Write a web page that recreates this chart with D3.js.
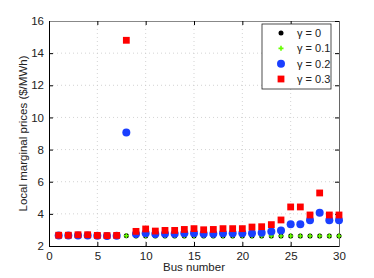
<!DOCTYPE html>
<html>
<head>
<meta charset="utf-8">
<script src="https://cdn.jsdelivr.net/npm/d3@7"></script>
<style>
  body { margin: 0; background: #fff; }
  svg { font-family: "Liberation Sans", Arial, sans-serif; }
</style>
</head>
<body>
<div id="chart"></div>
<script>
// bus numbers 1..30 and prices
var buses = [1,2,3,4,5,6,7,8,9,10,11,12,13,14,15,16,17,18,19,20,21,22,23,24,25,26,27,28,29,30];
var gamma0 = [2.65,2.65,2.66,2.66,2.64,2.63,2.64,2.64,2.62,2.62,2.62,2.62,2.62,2.62,2.62,2.62,2.62,2.62,2.62,2.62,2.62,2.62,2.62,2.62,2.62,2.62,2.62,2.62,2.62,2.62];
var gamma1 = [2.65,2.65,2.66,2.66,2.64,2.63,2.64,2.64,2.62,2.62,2.62,2.62,2.62,2.62,2.62,2.62,2.62,2.62,2.62,2.62,2.62,2.62,2.62,2.62,2.62,2.62,2.62,2.62,2.62,2.62];
var gamma2 = [2.65,2.65,2.66,2.66,2.64,2.63,2.64,9.07,2.74,2.8,2.75,2.77,2.77,2.79,2.8,2.76,2.77,2.79,2.79,2.79,2.8,2.83,2.9,2.97,3.35,3.36,3.6,4.07,3.6,3.6];
var gamma3 = [2.67,2.67,2.7,2.7,2.66,2.65,2.66,14.8,2.91,3.06,2.93,2.97,2.97,3.03,3.08,3.01,3.03,3.08,3.08,3.08,3.18,3.2,3.33,3.62,4.43,4.43,3.93,5.3,3.93,3.93];
var xTicks = [0,5,10,15,20,25,30];
var yTicks = [2,4,6,8,10,12,14,16];
var legendLabels = ["\u03b3 = 0", "\u03b3 = 0.1", "\u03b3 = 0.2", "\u03b3 = 0.3"];

var svgWidth = 374;
var svgHeight = 278;
var margin = {top: 21, right: 35, bottom: 32, left: 49};
var chartWidth = 339 - margin.left;
var chartHeight = 246 - margin.top;

var svg = d3.select("#chart").append("svg")
  .attr("width", svgWidth)
  .attr("height", svgHeight);

var g = svg.append("g")
  .attr("transform", `translate(${margin.left},${margin.top})`);

var x = d3.scaleLinear().domain([0, 30]).range([0, chartWidth]);
var y = d3.scaleLinear().domain([2, 16]).range([chartHeight, 0]);

// dotted grid
g.selectAll(".gx").data(xTicks.slice(1, -1)).enter().append("line")
  .attr("x1", d => x(d)).attr("x2", d => x(d))
  .attr("y1", 0).attr("y2", chartHeight)
  .attr("stroke", "#c8c8c8").attr("stroke-width", 0.8).attr("stroke-dasharray", "1,3");
g.selectAll(".gy").data(yTicks.slice(1, -1)).enter().append("line")
  .attr("y1", d => y(d)).attr("y2", d => y(d))
  .attr("x1", 0).attr("x2", chartWidth)
  .attr("stroke", "#c8c8c8").attr("stroke-width", 0.8).attr("stroke-dasharray", "1,3");

// axes, MATLAB box style with inward ticks
var bottomAxis = d3.axisBottom(x).tickValues(xTicks).tickSize(-4).tickPadding(6);
var leftAxis = d3.axisLeft(y).tickValues(yTicks).tickSize(-4).tickPadding(5);
var topAxis = d3.axisTop(x).tickValues(xTicks).tickSize(-4).tickFormat("");
var rightAxis = d3.axisRight(y).tickValues(yTicks).tickSize(-4).tickFormat("");

g.append("g").attr("transform", `translate(0,${chartHeight})`).call(bottomAxis);
g.append("g").call(leftAxis);
g.append("g").call(topAxis).select(".domain").attr("stroke", "#888").attr("stroke-width", 1.5);
g.append("g").attr("transform", `translate(${chartWidth},0)`).call(rightAxis)
  .select(".domain").attr("stroke", "#666");

g.selectAll(".tick text").attr("font-size", 11.5).attr("fill", "#222");
g.selectAll(".domain").attr("shape-rendering", "crispEdges");

// series
var pts = buses.map((b, i) => ({b: b, v0: gamma0[i], v1: gamma1[i], v2: gamma2[i], v3: gamma3[i]}));

g.selectAll(".s0").data(pts).enter().append("circle")
  .attr("cx", d => x(d.b)).attr("cy", d => y(d.v0)).attr("r", 2.5).attr("fill", "#000");

g.selectAll(".s1").data(pts).enter().append("path")
  .attr("transform", d => `translate(${x(d.b)},${y(d.v1)})`)
  .attr("d", "M-2.5,0H2.5M0,-2.5V2.5")
  .attr("stroke", "#66ff00").attr("stroke-width", 1.6);

g.selectAll(".s2").data(pts).enter().append("circle")
  .attr("cx", d => x(d.b)).attr("cy", d => y(d.v2)).attr("r", 4).attr("fill", "#1a3fff");

g.selectAll(".s3").data(pts).enter().append("rect")
  .attr("x", d => x(d.b) - 3.4).attr("y", d => y(d.v3) - 3.4)
  .attr("width", 6.8).attr("height", 6.8).attr("fill", "#ff0000");

// legend
var lg = svg.append("g").attr("transform", "translate(262,24)");
lg.append("rect").attr("width", 69).attr("height", 65)
  .attr("fill", "#fff").attr("stroke", "#222").attr("stroke-width", 0.8);
var ly = d3.scalePoint().domain(legendLabels).range([9, 55]);
var mx = 19;
lg.append("circle").attr("cx", mx).attr("cy", ly(legendLabels[0])).attr("r", 2.5).attr("fill", "#000");
lg.append("path").attr("transform", `translate(${mx},${ly(legendLabels[1])})`)
  .attr("d", "M-2.5,0H2.5M0,-2.5V2.5").attr("stroke", "#66ff00").attr("stroke-width", 1.6);
lg.append("circle").attr("cx", mx).attr("cy", ly(legendLabels[2])).attr("r", 4).attr("fill", "#1a3fff");
lg.append("rect").attr("x", mx - 3.4).attr("y", ly(legendLabels[3]) - 3.4)
  .attr("width", 6.8).attr("height", 6.8).attr("fill", "#ff0000");
lg.selectAll(".lt").data(legendLabels).enter().append("text")
  .attr("x", 35).attr("y", d => ly(d)).attr("dy", "0.35em")
  .attr("font-size", 11).attr("fill", "#222").text(d => d);

// axis labels
svg.append("text")
  .attr("x", margin.left + chartWidth / 2).attr("y", 271)
  .attr("text-anchor", "middle").attr("font-size", 11.5).attr("fill", "#222")
  .text("Bus number");
svg.append("text")
  .attr("transform", `translate(27,${margin.top + chartHeight / 2}) rotate(-90)`)
  .attr("text-anchor", "middle").attr("font-size", 11.5).attr("fill", "#222")
  .text("Local marginal prices ($/MWh)");
</script>
</body>
</html>
